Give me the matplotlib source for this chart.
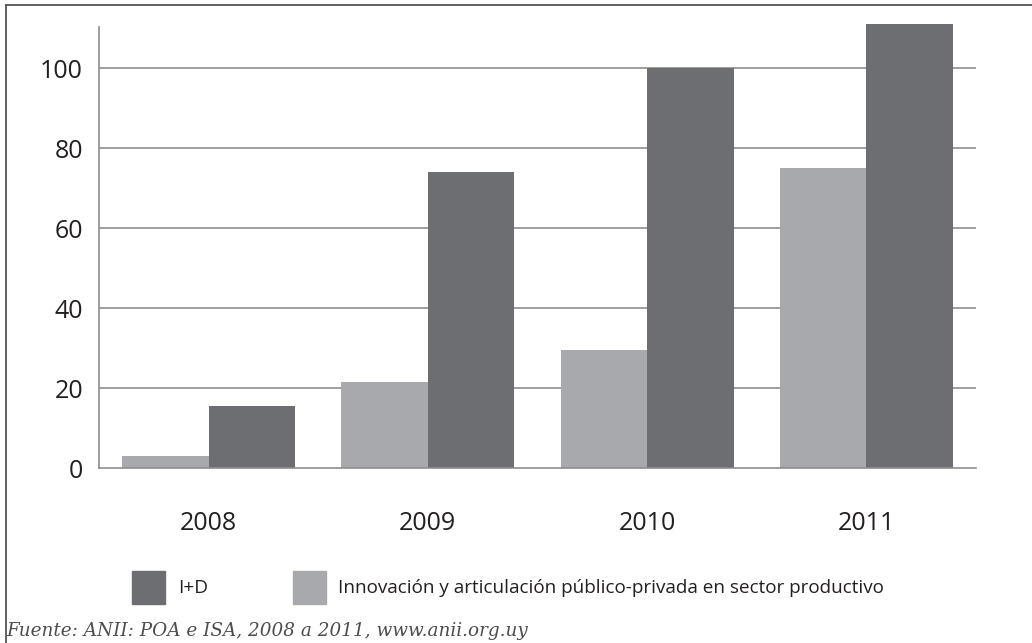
import matplotlib.pyplot as plt
from matplotlib.patches import Rectangle
from matplotlib.lines import Line2D
import numpy as np

years = ['2008', '2009', '2010', '2011']
innovacion = [3, 21.5, 29.5, 75]
id_vals = [15.5, 74, 100, 111]
yticks = [0, 20, 40, 60, 80, 100]

dark = '#6d6e71'
light = '#a7a9ac'
grid_c = '#8e8e8e'
txt_c = '#231f20'

plt.rcParams['font.family'] = ['Open Sans', 'DejaVu Sans']

fig = plt.figure(figsize=(10.32, 6.43), dpi=100)
W, H = 1032, 643

# axes in pixel coordinates: x 99..976, y 468 (0) .. 27
ax = fig.add_axes([99 / W, 1 - 468 / H, 877 / W, (468 - 27) / H])

x = np.arange(len(years)) + 0.5
bw = 0.395
ax.bar(x - bw / 2, innovacion, bw, color=light, zorder=3, clip_on=False)
ax.bar(x + bw / 2, id_vals, bw, color=dark, zorder=3, clip_on=False)

ax.set_xlim(0, 4)
ax.set_ylim(0, 110.3)
ax.set_yticks(yticks)
ax.set_xticks(x)
ax.set_xticklabels(years)
ax.tick_params(length=0, labelsize=18, colors=txt_c)
ax.tick_params(axis='y', pad=11.5)
ax.tick_params(axis='x', pad=31)
for t in yticks[1:]:
    ax.axhline(t, color=grid_c, lw=1.2, zorder=1)

for s in ['top', 'right']:
    ax.spines[s].set_visible(False)
ax.spines['left'].set_color(grid_c)
ax.spines['left'].set_linewidth(1.2)
ax.spines['bottom'].set_color(grid_c)
ax.spines['bottom'].set_linewidth(1.2)
ax.spines['bottom'].set_zorder(4)

# outer frame (top and left)
fig.add_artist(Line2D([6 / W, 1], [1 - 4.5 / H, 1 - 4.5 / H], color='#555555', lw=1.3))
fig.add_artist(Line2D([6 / W, 6 / W], [0, 1 - 4.5 / H], color='#555555', lw=1.3))

# legend
fig.add_artist(Rectangle((132 / W, 1 - 604 / H), 33 / W, 33 / H, color=dark, transform=fig.transFigure))
fig.text(178 / W, 1 - 588 / H, 'I+D', fontsize=13.6, color=txt_c, va='center')
fig.add_artist(Rectangle((293 / W, 1 - 604 / H), 33 / W, 33 / H, color=light, transform=fig.transFigure))
fig.text(338 / W, 1 - 588 / H, 'Innovación y articulación público-privada en sector productivo',
         fontsize=13.6, color=txt_c, va='center')

fig.text(6 / W, 1 - 631 / H, 'Fuente: ANII: POA e ISA, 2008 a 2011, www.anii.org.uy',
         fontsize=13.2, color='#4d4d4d', style='italic', va='center',
         family=['DejaVu Serif'])

plt.savefig('out.png', dpi=100, facecolor='white')
